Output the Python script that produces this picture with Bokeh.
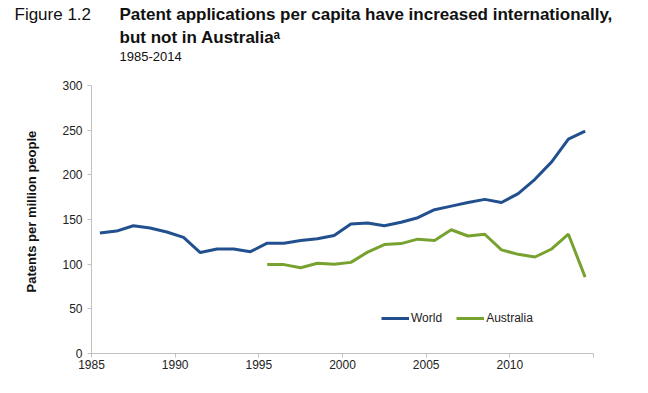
from bokeh.plotting import figure
from bokeh.models import Range1d, FixedTicker, Legend, LegendItem, Title
from bokeh.embed import file_html
from bokeh.resources import INLINE

# ---- data ----
world_years = list(range(1985, 2015))
world_vals = [135, 137, 143, 140.5, 136, 130, 113, 117, 117, 114,
              123.5, 123.5, 126.5, 128.5, 132, 145, 146, 143, 147, 152,
              161, 165, 169, 172.5, 169, 179, 195, 214.5, 240, 249]
aus_years = list(range(1995, 2015))
aus_vals = [99.5, 99.5, 96, 101, 100, 102, 113.5, 122, 123, 128,
            126.5, 138.5, 131.5, 133.5, 116, 111, 108, 117, 133.5, 85.5]
x_tick_vals = [1984.5, 1989.5, 1994.5, 1999.5, 2004.5, 2009.5, 2014.5]
x_tick_labels = ["1985", "1990", "1995", "2000", "2005", "2010", ""]
y_ticks = [0, 50, 100, 150, 200, 250, 300]

BLUE = "#22508f"
GREEN = "#78a22f"
FONT = "Liberation Sans"

p = figure(width=632, height=377, output_backend="svg", toolbar_location=None,
           x_range=Range1d(1984.5, 2014.5), y_range=Range1d(0, 300),
           min_border_left=90, min_border_right=39, min_border_top=85,
           min_border_bottom=24)
p.outline_line_color = None
p.xgrid.grid_line_color = None
p.ygrid.grid_line_color = None

r_world = p.line(world_years, world_vals, line_color=BLUE, line_width=3)
r_aus = p.line(aus_years, aus_vals, line_color=GREEN, line_width=3)

for ax in (p.xaxis[0], p.yaxis[0]):
    ax.axis_line_color = "#c0c0c0"
    ax.major_tick_line_color = "#c0c0c0"
    ax.minor_tick_line_color = None
    ax.major_label_text_font = FONT
    ax.major_label_text_font_size = "12px"
    ax.major_label_text_color = "#222222"
    ax.major_tick_in = 0
    ax.major_tick_out = 4

p.xaxis.ticker = FixedTicker(ticks=x_tick_vals)
p.xaxis.major_label_overrides = dict(zip(x_tick_vals, x_tick_labels))
p.xaxis.major_label_standoff = 2
p.yaxis.ticker = FixedTicker(ticks=y_ticks)
p.yaxis.major_label_standoff = 5

legend = Legend(items=[LegendItem(label="World", renderers=[r_world]),
                       LegendItem(label="Australia", renderers=[r_aus])],
                orientation="horizontal", location=(290, 28),
                padding=0, margin=0, spacing=14, label_standoff=2,
                glyph_width=28, glyph_height=12,
                border_line_color=None, background_fill_alpha=0,
                label_text_font=FONT, label_text_font_size="12px",
                label_text_color="#222222")
p.add_layout(legend)

def title(text, size, style, offset, standoff, side="above"):
    t = Title(text=text, align="left", offset=offset, standoff=standoff,
              text_font=FONT, text_font_size=size, text_font_style=style,
              text_color="#111111")
    p.add_layout(t, side)

# stacked from the frame outwards
title(" ", "13px", "normal", 0, 14)
title("1985-2014", "13px", "normal", 28, -12)
title("but not in Australia\u1d43", "17px", "bold", 28, 16)
title("Patent applications per capita have increased internationally,", "17px", "bold", 28, -12)
title("Figure 1.2", "17px", "normal", -77, -30)

# y-axis title
title("Patents per million people", "13px", "bold", 61, 42, side="left")

open("out.html", "w").write(file_html(p, INLINE))
